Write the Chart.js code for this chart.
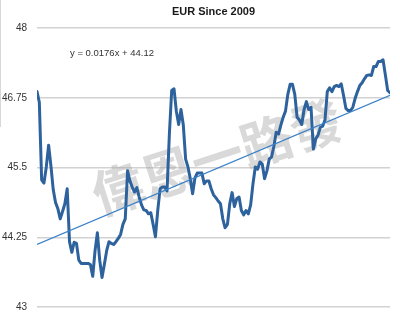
<!DOCTYPE html>
<html>
<head>
<meta charset="utf-8">
<script src="https://cdn.jsdelivr.net/npm/chart.js@4/dist/chart.umd.min.js"></script>
<style>
  html, body { margin: 0; padding: 0; background: #fff; }
  canvas { display: block; }
</style>
</head>
<body>
<canvas id="eur" width="400" height="323"></canvas>
<script>
// EUR weekly closes since 2009
const eurValues = [
  46.86, 46.67, 45.28, 45.22, 45.51, 45.90, 45.53, 45.10, 44.87, 44.76,
  44.58, 44.71, 44.85, 45.12, 44.17, 43.98, 44.16, 44.14, 43.84, 43.78,
  43.78, 43.78, 43.78, 43.76, 43.55, 44.01, 44.33, 43.84, 43.53, 43.76,
  44.01, 44.17, 44.14, 44.12, 44.17, 44.23, 44.30, 44.48, 44.58, 45.44,
  45.26, 45.15, 45.06, 45.14, 44.97, 44.83, 44.74, 44.73, 44.67, 44.69,
  44.48, 44.26, 44.73, 45.12, 45.15, 45.15, 45.08, 46.10, 46.88, 46.91,
  46.51, 46.27, 46.54, 46.26, 45.65, 45.51, 45.30, 45.03, 45.31, 45.40,
  45.40, 45.40, 45.21, 45.26, 45.26, 45.12, 45.01, 44.96, 44.90, 44.85,
  44.58, 44.42, 44.48, 44.85, 45.05, 44.80, 44.94, 44.97, 44.73, 44.65,
  44.73, 44.67, 44.83, 45.21, 45.51, 45.47, 45.60, 45.56, 45.30, 45.44,
  45.65, 45.69, 45.88, 46.13, 46.10, 46.26, 46.40, 46.51, 46.81, 46.99,
  46.99, 46.81, 46.40, 46.35, 46.27, 46.54, 46.68, 46.54, 46.58, 45.83,
  46.01, 46.08, 46.22, 46.24, 46.35, 46.86, 46.93, 46.86, 46.95, 46.97,
  46.95, 47.00, 46.79, 46.56, 46.52, 46.52, 46.58, 46.74, 46.86, 46.97,
  47.02, 47.09, 47.15, 47.16, 47.15, 47.31, 47.31, 47.40, 47.40, 47.43,
  47.16, 46.88, 46.84
];

// Linear trend fitted over the point index
const trendSlope = 0.0176;
const trendIntercept = 44.12;

// Value axis
const tickValues = [43, 44.25, 45.5, 46.75, 48];
const tickLabels = ['43', '44.25', '45.5', '46.75', '48'];

const titleText = 'EUR Since 2009';
const equationText = 'y = 0.0176x + 44.12';
const watermarkText = '偉恩一路發';

const lastIndex = eurValues.length - 1;
const seriesPoints = eurValues.map((v, i) => ({ x: i, y: v }));
const trendPoints = [0, lastIndex].map(i => ({ x: i, y: trendIntercept + trendSlope * i }));

const decorations = {
  id: 'decorations',
  beforeDatasetsDraw(chart) {
    const { ctx, chartArea } = chart;
    ctx.save();
    ctx.translate(chartArea.left + 180, chartArea.top + 129);
    ctx.rotate(-18 * Math.PI / 180);
    ctx.font = 'bold 52px "Noto Sans CJK TC", "Noto Sans CJK SC", sans-serif';
    ctx.fillStyle = 'rgba(165,165,165,0.42)';
    ctx.textAlign = 'center';
    ctx.textBaseline = 'middle';
    ctx.fillText(watermarkText, 0, 0);
    ctx.restore();
  },
  afterDraw(chart) {
    const { ctx, chartArea } = chart;
    ctx.save();
    // page edge rule
    ctx.strokeStyle = '#d8d8d8';
    ctx.lineWidth = 1;
    ctx.beginPath();
    ctx.moveTo(0.5, 0);
    ctx.lineTo(0.5, 127);
    ctx.stroke();
    // title
    ctx.fillStyle = '#1a1a1a';
    ctx.font = 'bold 11px "Liberation Sans", Arial, sans-serif';
    ctx.textAlign = 'center';
    ctx.textBaseline = 'middle';
    ctx.fillText(titleText, (chartArea.left + chartArea.right) / 2, 12);
    // trend equation
    ctx.fillStyle = '#333';
    ctx.font = '9.5px "Liberation Sans", Arial, sans-serif';
    ctx.textAlign = 'left';
    ctx.fillText(equationText, chartArea.left + 33, chartArea.top + 25.5);
    ctx.restore();
  }
};

new Chart(document.getElementById('eur'), {
  type: 'line',
  data: {
    datasets: [
      {
        label: 'Trend',
        data: trendPoints,
        borderColor: '#3b82c8',
        borderWidth: 1.3,
        pointRadius: 0,
        tension: 0,
        order: 0
      },
      {
        label: 'EUR',
        data: seriesPoints,
        borderColor: '#2d629d',
        borderWidth: 3,
        borderJoinStyle: 'round',
        borderCapStyle: 'round',
        pointRadius: 0,
        tension: 0,
        order: 1
      }
    ]
  },
  options: {
    responsive: false,
    devicePixelRatio: 1,
    animation: false,
    layout: { padding: { left: 0, right: 10, top: 28, bottom: 14 } },
    plugins: {
      legend: { display: false },
      tooltip: { enabled: false },
      title: { display: false }
    },
    scales: {
      x: {
        type: 'linear',
        display: false,
        min: 0,
        max: lastIndex
      },
      y: {
        type: 'linear',
        min: tickValues[0],
        max: tickValues[tickValues.length - 1],
        border: { display: false },
        grid: { color: '#d2d2d2', lineWidth: 1.5, drawTicks: false },
        afterBuildTicks(scale) {
          scale.ticks = tickValues.map(v => ({ value: v }));
        },
        afterFit(scale) {
          scale.width = 37;
        },
        ticks: {
          padding: 10,
          color: '#333',
          font: { family: '"Liberation Sans", Arial, sans-serif', size: 10 },
          callback(value) {
            const k = tickValues.indexOf(value);
            return k >= 0 ? tickLabels[k] : '';
          }
        }
      }
    }
  },
  plugins: [decorations]
});
</script>
</body>
</html>
